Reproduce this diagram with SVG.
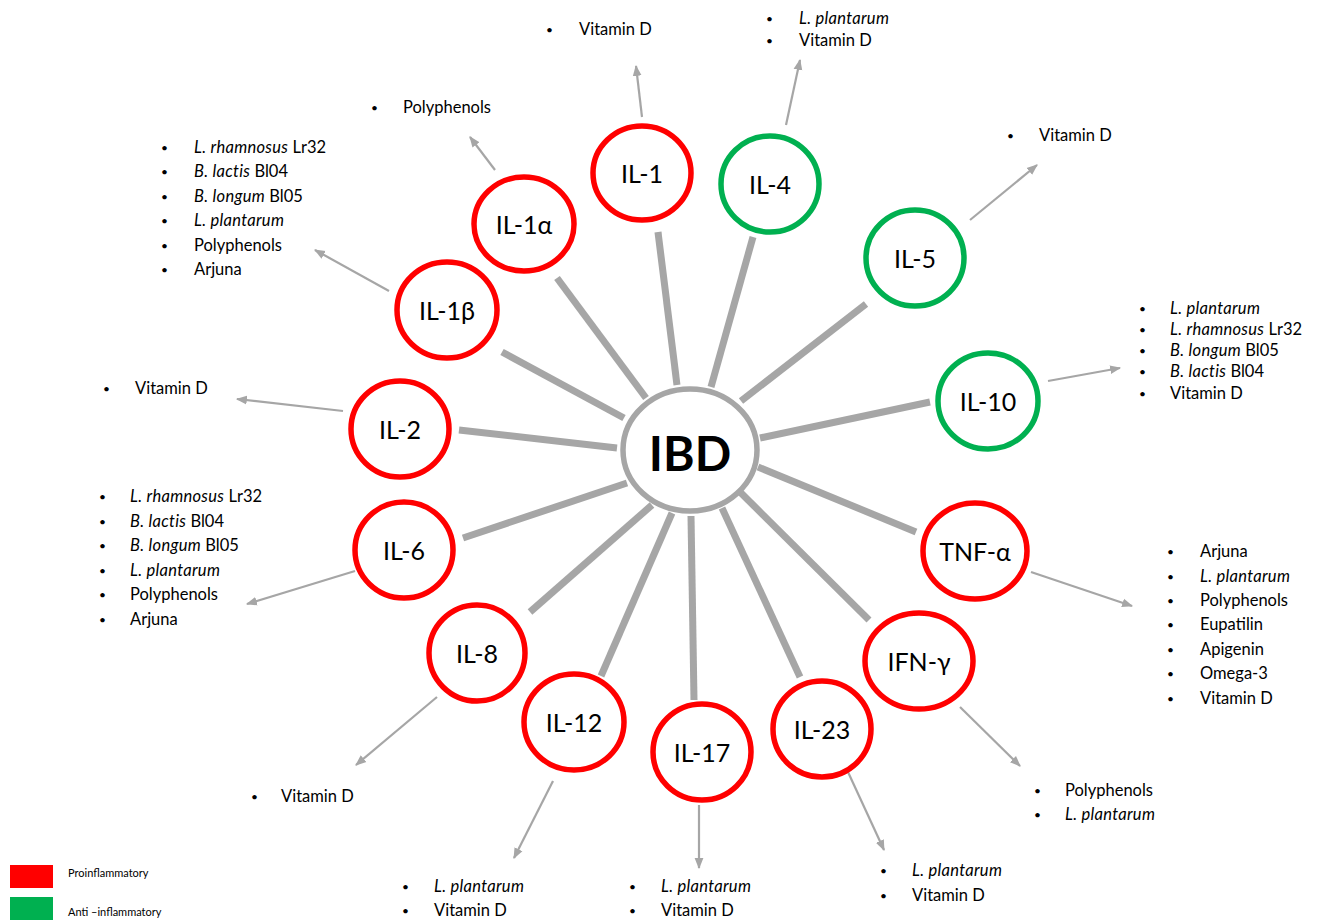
<svg xmlns="http://www.w3.org/2000/svg" width="1318" height="921" viewBox="0 0 1318 921">
<style>
.pro{fill:#fff;stroke:#ff0000;stroke-width:5.5}
.anti{fill:#fff;stroke:#00b050;stroke-width:5.5}
.lbl{font-family:Lato,"Liberation Sans",sans-serif;font-size:25px;fill:#000;text-anchor:middle;dominant-baseline:central}
.lst{font-family:Lato,"Liberation Sans",sans-serif;font-size:16.5px;fill:#000}
.lst .b{font-size:12px}
.lst .i{font-style:italic;letter-spacing:0.3px}
.thick{stroke:#a6a6a6;stroke-width:7;fill:none}
.thin{stroke:#a6a6a6;stroke-width:2.2;fill:none;marker-end:url(#ah)}
.leg{font-family:Lato,"Liberation Sans",sans-serif;font-size:11px;fill:#000}
</style>
<defs>
<marker id="ah" viewBox="0 0 10 10" refX="9" refY="5" markerWidth="5" markerHeight="5" orient="auto" markerUnits="strokeWidth">
<path d="M0,1 L10,5 L0,9 Z" fill="#a6a6a6"/>
</marker>
</defs>
<rect width="1318" height="921" fill="#fff"/>
<g id="connectors">
<line class="thick" x1="658" y1="232" x2="677" y2="385"/>
<line class="thick" x1="753" y1="237" x2="711" y2="387"/>
<line class="thick" x1="866" y1="304" x2="741" y2="401"/>
<line class="thick" x1="930" y1="402" x2="760" y2="438"/>
<line class="thick" x1="916" y1="532" x2="758" y2="467"/>
<line class="thick" x1="869" y1="620" x2="740" y2="492"/>
<line class="thick" x1="800" y1="677" x2="722" y2="508"/>
<line class="thick" x1="694" y1="700" x2="691" y2="516"/>
<line class="thick" x1="601" y1="676" x2="672" y2="513"/>
<line class="thick" x1="530" y1="612" x2="652" y2="505"/>
<line class="thick" x1="463" y1="538" x2="627" y2="483"/>
<line class="thick" x1="459" y1="430" x2="617" y2="448"/>
<line class="thick" x1="502" y1="352" x2="624" y2="418"/>
<line class="thick" x1="557" y1="278" x2="646" y2="398"/>
<line class="thin" x1="642" y1="117" x2="636" y2="66"/>
<line class="thin" x1="786" y1="125" x2="800" y2="60"/>
<line class="thin" x1="970" y1="220" x2="1037" y2="165"/>
<line class="thin" x1="1048" y1="381" x2="1120" y2="368"/>
<line class="thin" x1="1031" y1="572" x2="1132" y2="606"/>
<line class="thin" x1="960" y1="707" x2="1020" y2="766"/>
<line class="thin" x1="848" y1="772" x2="884" y2="850"/>
<line class="thin" x1="699" y1="805" x2="699" y2="868"/>
<line class="thin" x1="553" y1="781" x2="514" y2="858"/>
<line class="thin" x1="437" y1="697" x2="356" y2="765"/>
<line class="thin" x1="355" y1="571" x2="247" y2="604"/>
<line class="thin" x1="343" y1="411" x2="237" y2="399"/>
<line class="thin" x1="389" y1="291" x2="315" y2="250"/>
<line class="thin" x1="495" y1="170" x2="470" y2="137"/>
</g>
<g id="IBD">
<ellipse cx="690" cy="450" rx="67" ry="61" fill="#fff" stroke="#a6a6a6" stroke-width="5.5"/>
<text x="690" y="452" font-family="Lato,'Liberation Sans',sans-serif" font-size="48" font-weight="bold" text-anchor="middle" dominant-baseline="central">IBD</text>
</g>
<g id="IL-1"><ellipse class="pro" cx="642" cy="173" rx="49" ry="47"/><text class="lbl" x="642" y="173">IL-1</text></g>
<g id="IL-4"><ellipse class="anti" cx="770" cy="184" rx="49" ry="48"/><text class="lbl" x="770" y="184">IL-4</text></g>
<g id="IL-5"><ellipse class="anti" cx="915" cy="258" rx="49" ry="48"/><text class="lbl" x="915" y="258">IL-5</text></g>
<g id="IL-10"><ellipse class="anti" cx="988" cy="401" rx="50" ry="48"/><text class="lbl" x="988" y="401">IL-10</text></g>
<g id="TNF-a"><ellipse class="pro" cx="975" cy="551" rx="52" ry="48"/><text class="lbl" x="975" y="551">TNF-α</text></g>
<g id="IFN-y"><ellipse class="pro" cx="919" cy="661" rx="54" ry="48"/><text class="lbl" x="919" y="661">IFN-γ</text></g>
<g id="IL-23"><ellipse class="pro" cx="822" cy="729" rx="49" ry="48"/><text class="lbl" x="822" y="729">IL-23</text></g>
<g id="IL-17"><ellipse class="pro" cx="702" cy="752" rx="49" ry="48"/><text class="lbl" x="702" y="752">IL-17</text></g>
<g id="IL-12"><ellipse class="pro" cx="574" cy="722" rx="50" ry="48"/><text class="lbl" x="574" y="722">IL-12</text></g>
<g id="IL-8"><ellipse class="pro" cx="477" cy="653" rx="48" ry="48"/><text class="lbl" x="477" y="653">IL-8</text></g>
<g id="IL-6"><ellipse class="pro" cx="404" cy="550" rx="49" ry="48"/><text class="lbl" x="404" y="550">IL-6</text></g>
<g id="IL-2"><ellipse class="pro" cx="400" cy="429" rx="49" ry="48"/><text class="lbl" x="400" y="429">IL-2</text></g>
<g id="IL-1b"><ellipse class="pro" cx="447" cy="310" rx="50" ry="48"/><text class="lbl" x="447" y="310">IL-1β</text></g>
<g id="IL-1a"><ellipse class="pro" cx="524" cy="224" rx="50" ry="47"/><text class="lbl" x="524" y="224">IL-1α</text></g>
<g id="lists" class="lst">
<text class="b" x="546" y="34">•</text><text x="579" y="35">Vitamin D</text>
<text class="b" x="766" y="23">•</text><text x="799" y="24"><tspan class="i">L. plantarum</tspan></text>
<text class="b" x="766" y="45">•</text><text x="799" y="46">Vitamin D</text>
<text class="b" x="1007" y="140">•</text><text x="1039" y="141">Vitamin D</text>
<text class="b" x="1139" y="313">•</text><text x="1170" y="314"><tspan class="i">L. plantarum</tspan></text>
<text class="b" x="1139" y="334">•</text><text x="1170" y="335"><tspan class="i">L. rhamnosus</tspan> Lr32</text>
<text class="b" x="1139" y="355">•</text><text x="1170" y="356"><tspan class="i">B. longum</tspan> Bl05</text>
<text class="b" x="1139" y="376">•</text><text x="1170" y="377"><tspan class="i">B. lactis</tspan> Bl04</text>
<text class="b" x="1139" y="398">•</text><text x="1170" y="399">Vitamin D</text>
<text class="b" x="1167" y="556">•</text><text x="1200" y="557">Arjuna</text>
<text class="b" x="1167" y="581">•</text><text x="1200" y="582"><tspan class="i">L. plantarum</tspan></text>
<text class="b" x="1167" y="605">•</text><text x="1200" y="606">Polyphenols</text>
<text class="b" x="1167" y="629">•</text><text x="1200" y="630">Eupatilin</text>
<text class="b" x="1167" y="654">•</text><text x="1200" y="655">Apigenin</text>
<text class="b" x="1167" y="678">•</text><text x="1200" y="679">Omega-3</text>
<text class="b" x="1167" y="703">•</text><text x="1200" y="704">Vitamin D</text>
<text class="b" x="1034" y="795">•</text><text x="1065" y="796">Polyphenols</text>
<text class="b" x="1034" y="819">•</text><text x="1065" y="820"><tspan class="i">L. plantarum</tspan></text>
<text class="b" x="880" y="875">•</text><text x="912" y="876"><tspan class="i">L. plantarum</tspan></text>
<text class="b" x="880" y="900">•</text><text x="912" y="901">Vitamin D</text>
<text class="b" x="629" y="891">•</text><text x="661" y="892"><tspan class="i">L. plantarum</tspan></text>
<text class="b" x="629" y="915">•</text><text x="661" y="916">Vitamin D</text>
<text class="b" x="402" y="891">•</text><text x="434" y="892"><tspan class="i">L. plantarum</tspan></text>
<text class="b" x="402" y="915">•</text><text x="434" y="916">Vitamin D</text>
<text class="b" x="251" y="801">•</text><text x="281" y="802">Vitamin D</text>
<text class="b" x="99" y="501">•</text><text x="130" y="502"><tspan class="i">L. rhamnosus</tspan> Lr32</text>
<text class="b" x="99" y="526">•</text><text x="130" y="527"><tspan class="i">B. lactis</tspan> Bl04</text>
<text class="b" x="99" y="550">•</text><text x="130" y="551"><tspan class="i">B. longum</tspan> Bl05</text>
<text class="b" x="99" y="575">•</text><text x="130" y="576"><tspan class="i">L. plantarum</tspan></text>
<text class="b" x="99" y="599">•</text><text x="130" y="600">Polyphenols</text>
<text class="b" x="99" y="624">•</text><text x="130" y="625">Arjuna</text>
<text class="b" x="103" y="393">•</text><text x="135" y="394">Vitamin D</text>
<text class="b" x="161" y="152">•</text><text x="194" y="153"><tspan class="i">L. rhamnosus</tspan> Lr32</text>
<text class="b" x="161" y="176">•</text><text x="194" y="177"><tspan class="i">B. lactis</tspan> Bl04</text>
<text class="b" x="161" y="201">•</text><text x="194" y="202"><tspan class="i">B. longum</tspan> Bl05</text>
<text class="b" x="161" y="225">•</text><text x="194" y="226"><tspan class="i">L. plantarum</tspan></text>
<text class="b" x="161" y="250">•</text><text x="194" y="251">Polyphenols</text>
<text class="b" x="161" y="274">•</text><text x="194" y="275">Arjuna</text>
<text class="b" x="371" y="112">•</text><text x="403" y="113">Polyphenols</text>
</g>
<g id="legend">
<rect x="10" y="865" width="43" height="23" fill="#ff0000"/>
<rect x="10" y="897" width="43" height="23" fill="#00b050"/>
<text class="leg" x="68" y="877">Proinflammatory</text>
<text class="leg" x="68" y="916">Anti –inflammatory</text>
</g>
</svg>
